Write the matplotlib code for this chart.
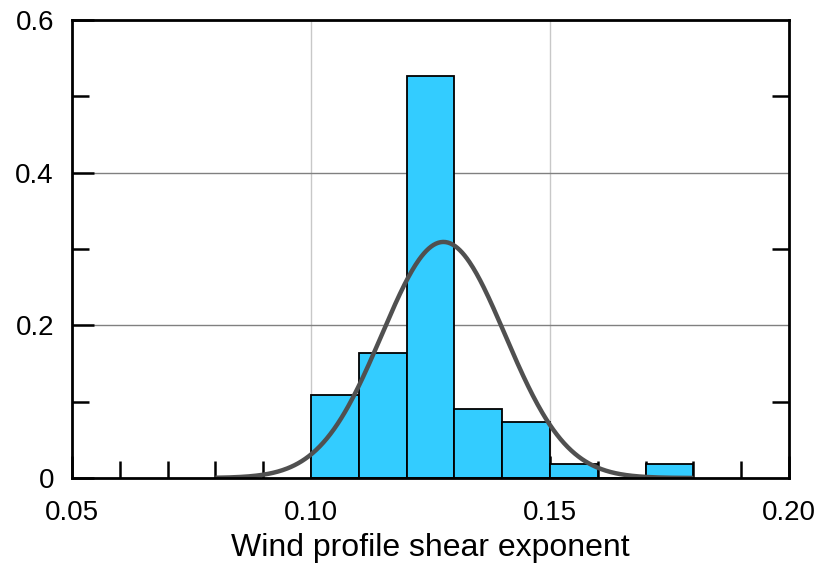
import numpy as np
import matplotlib
matplotlib.use("Agg")
import matplotlib.pyplot as plt
from matplotlib.ticker import FixedLocator, MultipleLocator, FuncFormatter

plt.rcParams['font.family'] = ['Liberation Sans', 'DejaVu Sans']

# Histogram of shear exponent (relative frequency per 0.01-wide bin)
bin_edges = [0.10, 0.11, 0.12, 0.13, 0.14, 0.15, 0.16, 0.17, 0.18]
counts = [6, 9, 29, 5, 4, 1, 0, 1]
n_total = 55
rel_freq = [c / n_total for c in counts]

# Fitted normal distribution parameters
fit_mean = 0.1277
fit_std = 0.0129
fit_range = (0.08, 0.18)

x_ticks = [0.05, 0.10, 0.15, 0.20]
y_ticks = [0, 0.2, 0.4, 0.6]

fig = plt.figure(figsize=(8.30, 5.63), dpi=100)
ax = fig.add_axes([72 / 830, 1 - 478 / 563, (789 - 72) / 830, (478 - 20) / 563])

widths = np.diff(bin_edges)
ax.bar(bin_edges[:-1], rel_freq, width=widths, align='edge',
       color='#33CCFF', edgecolor='black', linewidth=1.3, zorder=3)

xs = np.linspace(fit_range[0], fit_range[1], 400)
bw = widths[0]
ys = bw / (fit_std * np.sqrt(2 * np.pi)) * np.exp(-0.5 * ((xs - fit_mean) / fit_std) ** 2)
ax.plot(xs, ys, color='#505050', linewidth=3.2, zorder=4, solid_capstyle='butt')

ax.set_xlim(0.05, 0.20)
ax.set_ylim(0, 0.6)

# grid lines at the major ticks
for xv in x_ticks[1:-1]:
    ax.axvline(xv, color='#c8c8c8', linewidth=1.0, zorder=1)
for yv in y_ticks[1:-1]:
    ax.axhline(yv, color='#808080', linewidth=1.0, zorder=1)

ax.xaxis.set_major_locator(FixedLocator(x_ticks))
ax.yaxis.set_major_locator(FixedLocator(y_ticks))
ax.xaxis.set_minor_locator(MultipleLocator(0.01))
ax.yaxis.set_minor_locator(MultipleLocator(0.1))
ax.xaxis.set_major_formatter(FuncFormatter(lambda v, p: f"{v:.2f}"))
ax.yaxis.set_major_formatter(FuncFormatter(lambda v, p: "0" if abs(v) < 1e-9 else f"{v:.1f}"))

ax.tick_params(axis='both', which='both', direction='in', top=False,
               width=1.8, colors='black', labelsize=20)
ax.tick_params(axis='y', which='major', right=False, length=16, pad=13)
ax.tick_params(axis='x', which='major', length=16, pad=16)
ax.tick_params(axis='both', which='minor', length=12)
ax.tick_params(axis='y', which='minor', right=True)

for s in ax.spines.values():
    s.set_linewidth(2.0)
    s.set_zorder(5)

ax.set_xlabel("Wind profile shear exponent", fontsize=23, labelpad=5)

fig.savefig("out.png", dpi=100)
